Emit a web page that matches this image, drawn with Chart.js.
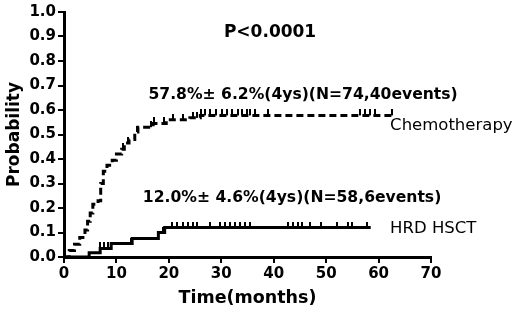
<!DOCTYPE html>
<html><head><meta charset="utf-8">
<script src="https://cdn.jsdelivr.net/npm/chart.js@4/dist/chart.umd.min.js"></script>
<style>html,body{margin:0;padding:0;background:#fff}#wrap{width:520px;height:319px;position:relative}</style>
</head><body><div id="wrap"><canvas id="c"></canvas></div>
<script>
// ---- data ----
const chemoTimes = [0, 1, 2, 3, 4, 4.5, 5, 5.5, 6.5, 7, 7.5, 8.2, 9.2, 10, 11, 11.5, 12.4, 13.5, 14.1, 17, 19.5, 24, 26, 63];
const chemoProb  = [0, 0.027, 0.052, 0.08, 0.11, 0.146, 0.18, 0.215, 0.23, 0.30, 0.35, 0.375, 0.395, 0.42, 0.44, 0.465, 0.48, 0.51, 0.53, 0.545, 0.56, 0.568, 0.578, 0.578];
const chemoCensor = [11.3, 12.2, 14, 16.5, 17.2, 19, 20.8, 22.7, 24.6, 25.4, 26.2, 26.8, 27.9, 29, 30.2, 31.1, 32.1, 33.2, 34, 34.9, 35.5, 36.4, 38.9, 56.5, 57.4, 58.4, 59.4, 62.6];
const hsctTimes = [0, 4.8, 6.9, 9, 13, 18, 19.2, 58.5];
const hsctProb  = [0, 0.017, 0.035, 0.055, 0.076, 0.10, 0.12, 0.12];
const hsctCensor = [6.9, 7.6, 8.4, 12.8, 17.9, 18.9, 20.6, 21.6, 22.7, 23.7, 24.6, 25.4, 27.8, 29.8, 30.7, 31.7, 32.6, 33.6, 34.5, 35.5, 42.7, 43.7, 44.6, 45.4, 47, 49, 52, 54.2, 55, 57.8];
const xTicks = [0, 10, 20, 30, 40, 50, 60, 70];
const yTicks = [0, 0.1, 0.2, 0.3, 0.4, 0.5, 0.6, 0.7, 0.8, 0.9, 1.0];
const seriesNames = ['Chemotherapy', 'HRD HSCT'];
const pText = 'P<0.0001';
const chemoNote = '57.8%\u00b1 6.2%(4ys)(N=74,40events)';
const hsctNote = '12.0%\u00b1 4.6%(4ys)(N=58,6events)';

// step-function value at time t
function stepAt(times, probs, t) {
  let v = probs[0];
  for (let i = 0; i < times.length; i++) if (times[i] <= t) v = probs[i];
  return v;
}
// censor tick marker: short vertical line above the point
const tick = document.createElement('canvas');
tick.width = 2; tick.height = 12;
const tctx = tick.getContext('2d');
tctx.fillStyle = '#000'; tctx.fillRect(0, 0, 2, 6);

const FONT = "'DejaVu Sans', sans-serif";

const textPlugin = {
  id: 'texts',
  afterDatasetsDraw(chart) {
    const {ctx, scales: {x, y}} = chart;
    ctx.save();
    ctx.fillStyle = '#000';
    ctx.textBaseline = 'middle';
    ctx.textAlign = 'center';
    ctx.font = "bold 17px " + FONT;
    ctx.fillText(pText, x.getPixelForValue(39.3), y.getPixelForValue(0.918));
    ctx.font = "bold 15.6px " + FONT;
    ctx.fillText(chemoNote, x.getPixelForValue(45.6), y.getPixelForValue(0.66));
    ctx.fillText(hsctNote, x.getPixelForValue(43.5), y.getPixelForValue(0.24));
    ctx.textAlign = 'left';
    ctx.font = "16.5px " + FONT;
    ctx.fillText(seriesNames[0], x.getPixelForValue(62.2), y.getPixelForValue(0.535));
    ctx.fillText(seriesNames[1], x.getPixelForValue(62.2), y.getPixelForValue(0.117));
    ctx.restore();
  }
};

new Chart(document.getElementById('c'), {
  type: 'line',
  data: {
    datasets: [
      {
        label: seriesNames[0],
        data: chemoTimes.map((t, i) => ({x: t, y: chemoProb[i]})),
        stepped: true, borderColor: '#000', borderWidth: 3, borderDash: [7, 4],
        pointRadius: 0, fill: false
      },
      {
        label: seriesNames[0] + ' censored', type: 'scatter',
        data: chemoCensor.map(t => ({x: t, y: stepAt(chemoTimes, chemoProb, t)})),
        pointStyle: tick, pointRadius: 3, showLine: false
      },
      {
        label: seriesNames[1],
        data: hsctTimes.map((t, i) => ({x: t, y: hsctProb[i]})),
        stepped: true, borderColor: '#000', borderWidth: 3,
        pointRadius: 0, fill: false
      },
      {
        label: seriesNames[1] + ' censored', type: 'scatter',
        data: hsctCensor.map(t => ({x: t, y: stepAt(hsctTimes, hsctProb, t)})),
        pointStyle: tick, pointRadius: 3, showLine: false
      }
    ]
  },
  options: {
    responsive: true, maintainAspectRatio: false, animation: false,
    layout: {padding: {left: 0, right: 89, top: 12, bottom: 0}},
    plugins: {legend: {display: false}, tooltip: {enabled: false}},
    scales: {
      x: {
        type: 'linear', min: 0, max: 70,
        afterBuildTicks: s => { s.ticks = xTicks.map(v => ({value: v})); },
        afterFit: s => { s.height = 62; },
        ticks: {color: '#000', font: {family: FONT, weight: 'bold', size: 15}, padding: 2},
        grid: {drawOnChartArea: false, drawTicks: true, tickLength: 6, color: '#000', lineWidth: 2},
        border: {display: true, color: '#000', width: 3},
        title: {display: true, text: 'Time(months)', color: '#000',
                font: {family: FONT, weight: 'bold', size: 17.5, lineHeight: 1.2}, padding: {top: 0, bottom: 10}}
      },
      y: {
        min: 0, max: 1,
        afterBuildTicks: s => { s.ticks = yTicks.map(v => ({value: v})); },
        afterFit: s => { s.width = 64; },
        ticks: {color: '#000', font: {family: FONT, weight: 'bold', size: 15}, padding: 2,
                callback: v => Number(v).toFixed(1)},
        grid: {drawOnChartArea: false, drawTicks: true, tickLength: 6, color: '#000', lineWidth: 2},
        border: {display: true, color: '#000', width: 3},
        title: {display: true, text: 'Probability', color: '#000',
                font: {family: FONT, weight: 'bold', size: 17, lineHeight: 1.2}, padding: {top: 4, bottom: 0}}
      }
    }
  },
  plugins: [textPlugin]
});
</script>
</body></html>
